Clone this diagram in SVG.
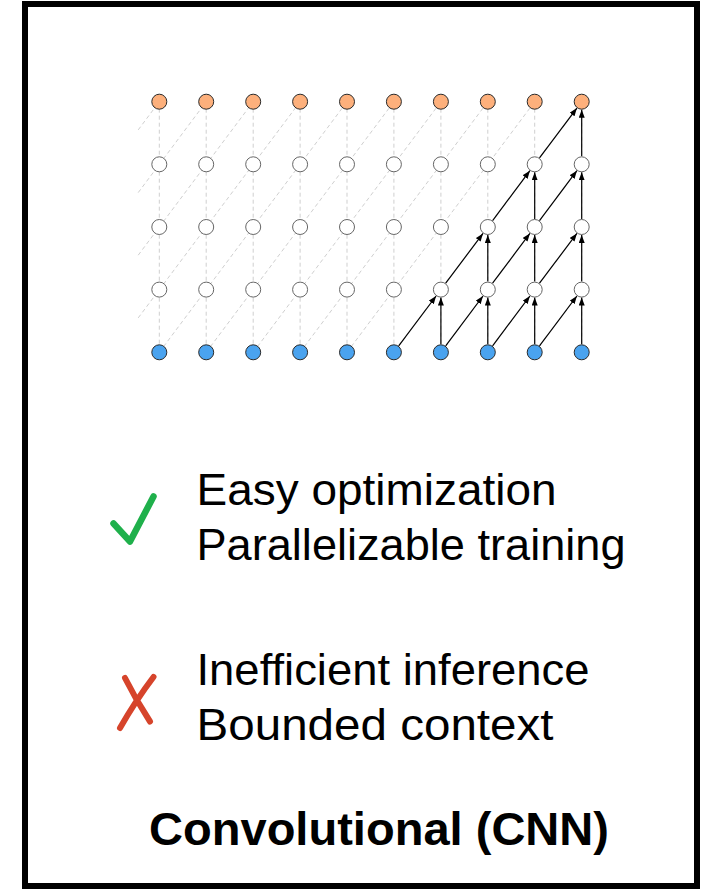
<svg xmlns="http://www.w3.org/2000/svg" width="704" height="890" viewBox="0 0 704 890">
  <style>
    .dash { fill: none; stroke: #cfcfcf; stroke-width: 1; stroke-dasharray: 4 3; }
    .edge { fill: none; stroke: #000; stroke-width: 1.2; marker-end: url(#arrow); }
    .out { fill: #fdb07c; stroke: #2a2a2a; stroke-width: 1; }
    .hid { fill: #fff; stroke: #666; stroke-width: 1; }
    .inp { fill: #4aa3ef; stroke: #2a2a2a; stroke-width: 1; }
    .txt { font-family: "Liberation Sans", Arial, sans-serif; font-size: 45px; fill: #000; }
    .title { font-family: "Liberation Sans", Arial, sans-serif; font-size: 46px; font-weight: bold; fill: #000; }
  </style>
  <defs>
    <marker id="arrow" markerUnits="userSpaceOnUse" markerWidth="9" markerHeight="7" refX="8" refY="3" orient="auto">
      <path d="M0,0 L8,3 L0,6 z" fill="#000"/>
    </marker>
  </defs>

  <rect width="704" height="890" fill="#fff"/>
  <!-- frame -->
  <rect id="frame" x="25" y="4" width="672" height="882" fill="none" stroke="#000" stroke-width="6"/>

  <!-- all possible kernel connections (dashed), drawn behind the nodes -->
  <g id="grid-lines">
    <path class="dash" d="M159.3,101.7V352.3 M206.2,101.7V352.3 M253.2,101.7V352.3 M300.1,101.7V352.3 M347,101.7V352.3 M393.9,101.7V352.3 M440.9,101.7V352.3 M487.8,101.7V352.3 M534.7,101.7V352.3 M581.7,101.7V352.3"/>
    <path class="dash" d="M159.3,352.3L347,101.7 M206.2,352.3L393.9,101.7 M253.2,352.3L440.9,101.7 M300.1,352.3L487.8,101.7 M347,352.3L534.7,101.7 M393.9,352.3L581.7,101.7 M440.9,352.3L581.7,164.3 M487.8,352.3L581.7,227 M534.7,352.3L581.7,289.6"/>
    <path class="dash" d="M138.2,129.9L159.3,101.7 M138.2,192.6L206.2,101.7 M138.2,255.2L253.2,101.7 M138.2,317.9L300.1,101.7"/>
  </g>

  <!-- receptive field of the last output -->
  <g id="connectors">
    <path class="edge" d="M398.7,345.9L436.1,296"/>
    <path class="edge" d="M445.7,345.9L483,296"/>
    <path class="edge" d="M492.6,345.9L529.9,296"/>
    <path class="edge" d="M539.5,345.9L576.9,296"/>
    <path class="edge" d="M440.9,344.3V297.6"/>
    <path class="edge" d="M487.8,344.3V297.6"/>
    <path class="edge" d="M534.7,344.3V297.6"/>
    <path class="edge" d="M581.7,344.3V297.6"/>
    <path class="edge" d="M445.7,283.2L483,233.4"/>
    <path class="edge" d="M492.6,283.2L529.9,233.4"/>
    <path class="edge" d="M539.5,283.2L576.9,233.4"/>
    <path class="edge" d="M487.8,281.6V235"/>
    <path class="edge" d="M534.7,281.6V235"/>
    <path class="edge" d="M581.7,281.6V235"/>
    <path class="edge" d="M492.6,220.6L529.9,170.7"/>
    <path class="edge" d="M539.5,220.6L576.9,170.7"/>
    <path class="edge" d="M534.7,219V172.3"/>
    <path class="edge" d="M581.7,219V172.3"/>
    <path class="edge" d="M539.5,157.9L576.9,108.1"/>
    <path class="edge" d="M581.7,156.3V109.7"/>
  </g>

  <!-- outputs -->
  <g id="outputs">
    <circle class="out" cx="159.3" cy="101.7" r="7.5"/>
    <circle class="out" cx="206.2" cy="101.7" r="7.5"/>
    <circle class="out" cx="253.2" cy="101.7" r="7.5"/>
    <circle class="out" cx="300.1" cy="101.7" r="7.5"/>
    <circle class="out" cx="347" cy="101.7" r="7.5"/>
    <circle class="out" cx="393.9" cy="101.7" r="7.5"/>
    <circle class="out" cx="440.9" cy="101.7" r="7.5"/>
    <circle class="out" cx="487.8" cy="101.7" r="7.5"/>
    <circle class="out" cx="534.7" cy="101.7" r="7.5"/>
    <circle class="out" cx="581.7" cy="101.7" r="7.5"/>
  </g>

  <!-- hidden layers -->
  <g id="hidden-1">
    <circle class="hid" cx="159.3" cy="164.3" r="7.5"/>
    <circle class="hid" cx="206.2" cy="164.3" r="7.5"/>
    <circle class="hid" cx="253.2" cy="164.3" r="7.5"/>
    <circle class="hid" cx="300.1" cy="164.3" r="7.5"/>
    <circle class="hid" cx="347" cy="164.3" r="7.5"/>
    <circle class="hid" cx="393.9" cy="164.3" r="7.5"/>
    <circle class="hid" cx="440.9" cy="164.3" r="7.5"/>
    <circle class="hid" cx="487.8" cy="164.3" r="7.5"/>
    <circle class="hid" cx="534.7" cy="164.3" r="7.5"/>
    <circle class="hid" cx="581.7" cy="164.3" r="7.5"/>
  </g>
  <g id="hidden-2">
    <circle class="hid" cx="159.3" cy="227" r="7.5"/>
    <circle class="hid" cx="206.2" cy="227" r="7.5"/>
    <circle class="hid" cx="253.2" cy="227" r="7.5"/>
    <circle class="hid" cx="300.1" cy="227" r="7.5"/>
    <circle class="hid" cx="347" cy="227" r="7.5"/>
    <circle class="hid" cx="393.9" cy="227" r="7.5"/>
    <circle class="hid" cx="440.9" cy="227" r="7.5"/>
    <circle class="hid" cx="487.8" cy="227" r="7.5"/>
    <circle class="hid" cx="534.7" cy="227" r="7.5"/>
    <circle class="hid" cx="581.7" cy="227" r="7.5"/>
  </g>
  <g id="hidden-3">
    <circle class="hid" cx="159.3" cy="289.6" r="7.5"/>
    <circle class="hid" cx="206.2" cy="289.6" r="7.5"/>
    <circle class="hid" cx="253.2" cy="289.6" r="7.5"/>
    <circle class="hid" cx="300.1" cy="289.6" r="7.5"/>
    <circle class="hid" cx="347" cy="289.6" r="7.5"/>
    <circle class="hid" cx="393.9" cy="289.6" r="7.5"/>
    <circle class="hid" cx="440.9" cy="289.6" r="7.5"/>
    <circle class="hid" cx="487.8" cy="289.6" r="7.5"/>
    <circle class="hid" cx="534.7" cy="289.6" r="7.5"/>
    <circle class="hid" cx="581.7" cy="289.6" r="7.5"/>
  </g>

  <!-- inputs -->
  <g id="inputs">
    <circle class="inp" cx="159.3" cy="352.3" r="7.5"/>
    <circle class="inp" cx="206.2" cy="352.3" r="7.5"/>
    <circle class="inp" cx="253.2" cy="352.3" r="7.5"/>
    <circle class="inp" cx="300.1" cy="352.3" r="7.5"/>
    <circle class="inp" cx="347" cy="352.3" r="7.5"/>
    <circle class="inp" cx="393.9" cy="352.3" r="7.5"/>
    <circle class="inp" cx="440.9" cy="352.3" r="7.5"/>
    <circle class="inp" cx="487.8" cy="352.3" r="7.5"/>
    <circle class="inp" cx="534.7" cy="352.3" r="7.5"/>
    <circle class="inp" cx="581.7" cy="352.3" r="7.5"/>
  </g>

  <!-- pros -->
  <g id="pros">
    <path d="M113.5,523.5 L130,541.5 L153.5,496.5" fill="none" stroke="#1fb04b" stroke-width="6.5" stroke-linecap="round" stroke-linejoin="round"/>
    <text class="txt" x="196.5" y="505" textLength="360" lengthAdjust="spacingAndGlyphs">Easy optimization</text>
    <text class="txt" x="196.5" y="560" textLength="429" lengthAdjust="spacingAndGlyphs">Parallelizable training</text>
  </g>

  <!-- cons -->
  <g id="cons">
    <path d="M125,678 Q136,700 150,721.5 M153.5,677 Q136,700 120,728" fill="none" stroke="#d6442b" stroke-width="6" stroke-linecap="round"/>
    <text class="txt" x="196.5" y="685" textLength="393" lengthAdjust="spacingAndGlyphs">Inefficient inference</text>
    <text class="txt" x="196.5" y="740" textLength="357" lengthAdjust="spacingAndGlyphs">Bounded context</text>
  </g>

  <text id="title" class="title" x="379" y="845" text-anchor="middle" textLength="460" lengthAdjust="spacingAndGlyphs">Convolutional (CNN)</text>
</svg>
